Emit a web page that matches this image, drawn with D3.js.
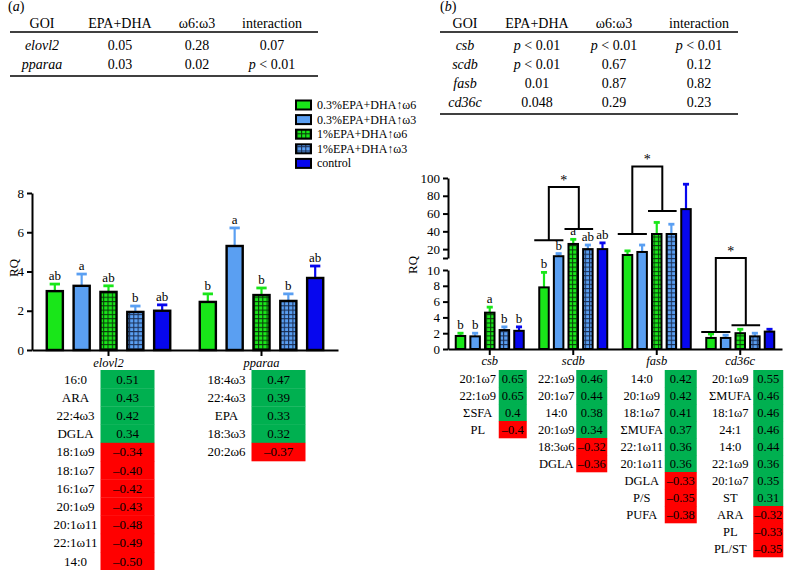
<!DOCTYPE html>
<html><head><meta charset="utf-8">
<script src="https://cdn.jsdelivr.net/npm/d3@7/dist/d3.min.js"></script>
<style>
body{margin:0;background:#fff}
svg{display:block}
svg text{font-family:"Liberation Serif","Tinos","Times New Roman","Times","DejaVu Serif","Noto Serif",serif;fill:#000}
</style>
</head><body>
<script>
// ---------------- DATA ----------------
const treatments = ["0.3%EPA+DHA\u2191\u03c96","0.3%EPA+DHA\u2191\u03c93","1%EPA+DHA\u2191\u03c96","1%EPA+DHA\u2191\u03c93","control"];
const treatmentColors = ["#19e619","#5a9ff2","#19e619","#5a9ff2","#0707ee"];
const treatmentPatterned = [false,false,true,true,false];

const tableHead = ["GOI","EPA+DHA","\u03c96:\u03c93","interaction"];
const tableAGenes = ["elovl2","pparaa"];
const tableAEpa = ["0.05","0.03"];
const tableARatio = ["0.28","0.02"];
const tableAInter = ["0.07","p < 0.01"];
const tableBGenes = ["csb","scdb","fasb","cd36c"];
const tableBEpa = ["p < 0.01","p < 0.01","0.01","0.048"];
const tableBRatio = ["p < 0.01","0.67","0.87","0.29"];
const tableBInter = ["p < 0.01","0.12","0.82","0.23"];

const genesA = ["elovl2","pparaa"];
const meanElovl2 = [3.0,3.27,2.96,1.94,2.0];
const errElovl2  = [3.36,3.87,3.27,2.24,2.3];
const letElovl2  = ["ab","a","ab","b","ab"];
const meanPparaa = [2.45,5.3,2.8,2.5,3.67];
const errPparaa  = [2.86,6.22,3.16,2.86,4.28];
const letPparaa  = ["b","a","b","b","ab"];

const genesB = ["csb","scdb","fasb","cd36c"];
const meanCsb  = [1.65,1.6,4.6,2.4,2.3];
const errCsb   = [2.0,2.0,5.3,2.8,2.8];
const letCsb   = ["b","b","a","b","b"];
const meanScdb = [7.8,12,25.8,20,20];
const errScdb  = [9.7,15,31,24.6,27];
const letScdb  = ["b","b","a","ab","ab"];
const meanFasb = [13.4,16.8,37,37,65];
const errFasb  = [18,24.6,50,48,93];
const letFasb  = ["","","","",""];
const meanCd36c = [1.4,1.4,2.0,1.6,2.2];
const errCd36c  = [1.9,1.75,2.5,2.0,2.5];
const letCd36c  = ["","","","",""];

const ticksA = [0,2,4,6,8];
const ticksBLow = [0,2,4,6,8,10];
const ticksBHigh = [10,20,40,60,80,100];

// significance brackets (values on RQ axis)
const bracketGenes = ["scdb","fasb","cd36c"];
const bracketLeft  = [30,37,2.15];
const bracketRight = [42.7,63,3.0];
const bracketTop   = [90,113,10.05];

// correlation tables
const corrElovl2Lab = ["16:0","ARA","22:4\u03c93","DGLA","18:1\u03c99","18:1\u03c97","16:1\u03c97","20:1\u03c99","20:1\u03c911","22:1\u03c911","14:0"];
const corrElovl2Val = ["0.51","0.43","0.42","0.34","\u20130.34","\u20130.40","\u20130.42","\u20130.43","\u20130.48","\u20130.49","\u20130.50"];
const corrPparaaLab = ["18:4\u03c93","22:4\u03c93","EPA","18:3\u03c93","20:2\u03c96"];
const corrPparaaVal = ["0.47","0.39","0.33","0.32","\u20130.37"];
const corrCsbLab = ["20:1\u03c97","22:1\u03c99","\u03a3SFA","PL"];
const corrCsbVal = ["0.65","0.65","0.4","\u20130.4"];
const corrScdbLab = ["22:1\u03c99","20:1\u03c97","14:0","20:1\u03c99","18:3\u03c96","DGLA"];
const corrScdbVal = ["0.46","0.44","0.38","0.34","\u20130.32","\u20130.36"];
const corrFasbLab = ["14:0","20:1\u03c99","18:1\u03c97","\u03a3MUFA","22:1\u03c911","20:1\u03c911","DGLA","P/S","PUFA"];
const corrFasbVal = ["0.42","0.42","0.41","0.37","0.36","0.36","\u20130.33","\u20130.35","\u20130.38"];
const corrCd36cLab = ["20:1\u03c99","\u03a3MUFA","18:1\u03c97","24:1","14:0","22:1\u03c99","20:1\u03c97","ST","ARA","PL","PL/ST"];
const corrCd36cVal = ["0.55","0.46","0.46","0.46","0.44","0.36","0.35","0.31","\u20130.32","\u20130.33","\u20130.35"];

// ---------------- DRAW ----------------
const W = 786, H = 570;
const FONT = '"Liberation Serif","Tinos","Times New Roman","Times","DejaVu Serif","Noto Serif",serif';
const svg = d3.select("body").append("svg").attr("width", W).attr("height", H)
  .attr("font-family", FONT);
const defs = svg.append("defs");
function gridPattern(id, bg, line, s){
  const p = defs.append("pattern").attr("id", id).attr("patternUnits","userSpaceOnUse")
    .attr("width", s).attr("height", s);
  p.append("rect").attr("width", s).attr("height", s).attr("fill", bg);
  p.append("path").attr("d", `M0,0.5H${s}M0.5,0V${s}`).attr("stroke", line).attr("stroke-width", 1.1);
}
gridPattern("gG", "#19e619", "#0a3a0a", 4.3);
gridPattern("gB", "#5a9ff2", "#1b2f55", 4.3);
const fillOf = i => treatmentPatterned[i] ? (i === 2 ? "url(#gG)" : "url(#gB)") : treatmentColors[i];

function txt(sel){ return sel.append("text").attr("font-family", FONT); }
function richText(sel, str){
  if (str.startsWith("p <")) {
    sel.append("tspan").attr("font-style","italic").text("p");
    sel.append("tspan").text(str.slice(1));
  } else sel.text(str);
}

// ---- panel labels ----
function panelLabel(x, y, ch){
  const t = txt(svg).attr("x", x).attr("y", y).attr("font-size", 14);
  t.append("tspan").text("(");
  t.append("tspan").attr("font-style","italic").text(ch);
  t.append("tspan").text(")");
}
panelLabel(8, 11, "a");
panelLabel(440, 11, "b");

// ---- top tables ----
function topTable(x0, x1, colX, genes, c1, c2, c3, headY, lineY, rowY0, rowStep){
  const g = svg.append("g");
  tableHead.forEach((h, i) => txt(g).attr("x", colX[i]).attr("y", headY)
    .attr("text-anchor","middle").attr("dominant-baseline","central").attr("font-size", 14).text(h));
  g.append("line").attr("x1", x0).attr("x2", x1).attr("y1", lineY).attr("y2", lineY).attr("stroke","#000").attr("stroke-width",1.5);
  genes.forEach((gn, r) => {
    const y = rowY0 + r * rowStep;
    txt(g).attr("x", colX[0]).attr("y", y).attr("text-anchor","middle").attr("dominant-baseline","central")
      .attr("font-size", 14).attr("font-style","italic").text(gn);
    [c1[r], c2[r], c3[r]].forEach((v, j) => {
      const t = txt(g).attr("x", colX[j+1]).attr("y", y).attr("text-anchor","middle")
        .attr("dominant-baseline","central").attr("font-size", 14);
      richText(t, v);
    });
  });
  const by = rowY0 + (genes.length - 1) * rowStep + 12;
  g.append("line").attr("x1", x0).attr("x2", x1).attr("y1", by).attr("y2", by).attr("stroke","#000").attr("stroke-width",1.5);
}
topTable(10, 318, [42,120,197,272], tableAGenes, tableAEpa, tableARatio, tableAInter, 23, 32, 45, 19);
topTable(440, 738, [465,537,614,699], tableBGenes, tableBEpa, tableBRatio, tableBInter, 23, 32, 45, 19);

// ---- legend ----
const leg = svg.append("g");
treatments.forEach((t, i) => {
  const y = 105 + i * 14.6;
  leg.append("rect").attr("x", 296).attr("y", y - 4.5).attr("width", 15).attr("height", 9)
    .attr("fill", fillOf(i)).attr("stroke","#000").attr("stroke-width", 2);
  txt(leg).attr("x", 317).attr("y", y).attr("dominant-baseline","central").attr("font-size", 12).text(t);
});

// ---- generic bar drawing ----
function drawBars(g, xOuter, xInner, yf, gene, means, errs, letters, sw){
  const bw = xInner.bandwidth();
  means.forEach((m, i) => {
    const x = xOuter(gene) + xInner(i);
    const cx = x + bw / 2;
    const col = treatmentColors[i];
    g.append("line").attr("x1", cx).attr("x2", cx).attr("y1", yf(m)).attr("y2", yf(errs[i]))
      .attr("stroke", col).attr("stroke-width", 2.2);
    g.append("line").attr("x1", cx - bw * 0.32).attr("x2", cx + bw * 0.32).attr("y1", yf(errs[i])).attr("y2", yf(errs[i]))
      .attr("stroke", col).attr("stroke-width", 2.8);
    g.append("rect").attr("x", x).attr("y", yf(m)).attr("width", bw).attr("height", yf(0) - yf(m))
      .attr("fill", fillOf(i)).attr("stroke", "#000").attr("stroke-width", sw);
    if (letters[i]) txt(g).attr("x", cx).attr("y", yf(errs[i]) - 4).attr("text-anchor","middle")
      .attr("font-size", 13).text(letters[i]);
  });
}
function styleAxis(a){
  a.attr("font-family", FONT);
  a.selectAll("path,line").attr("stroke","#000").attr("stroke-width",2);
  a.selectAll("text").attr("font-family", FONT).attr("font-size", 13).attr("fill","#000");
}

// ---- left chart ----
const xA = d3.scaleBand().domain(genesA).range([32, 338]);
const xAin = d3.scaleBand().domain(d3.range(5)).range([0, xA.bandwidth()]).paddingInner(0.4).paddingOuter(0.55);
const yA = d3.scaleLinear().domain([0, 8]).range([350, 193]);
const gA = svg.append("g");
drawBars(gA, xA, xAin, yA, "elovl2", meanElovl2, errElovl2, letElovl2, 2.4);
drawBars(gA, xA, xAin, yA, "pparaa", meanPparaa, errPparaa, letPparaa, 2.4);
styleAxis(svg.append("g").attr("transform","translate(32,0)")
  .call(d3.axisLeft(yA).tickValues(ticksA).tickSize(5).tickSizeOuter(0).tickPadding(3)));
styleAxis(svg.append("g").attr("transform","translate(0,350)")
  .call(d3.axisBottom(xA).tickSize(6).tickSizeOuter(0).tickFormat("")));
genesA.forEach(gn => txt(svg).attr("x", xA(gn) + xA.bandwidth()/2).attr("y", 363)
  .attr("text-anchor","middle").attr("dominant-baseline","central").attr("font-size",12.5).attr("font-style","italic").text(gn));
txt(svg).attr("transform","translate(13,268) rotate(-90)").attr("text-anchor","middle")
  .attr("dominant-baseline","central").attr("font-size",13).text("RQ");

// ---- right chart (broken axis) ----
const xB = d3.scaleBand().domain(genesB).range([448, 782]);
const xBin = d3.scaleBand().domain(d3.range(5)).range([0, xB.bandwidth()]).paddingInner(0.35).paddingOuter(0.53);
const yLow = d3.scaleLinear().domain([0, 10]).range([349, 270]);
const yHigh = d3.scaleLinear().domain([10, 100]).range([258, 178]);
const yB = v => v <= 10 ? yLow(v) : yHigh(v);
const gB = svg.append("g");
drawBars(gB, xB, xBin, yB, "csb", meanCsb, errCsb, letCsb, 2);
drawBars(gB, xB, xBin, yB, "scdb", meanScdb, errScdb, letScdb, 2);
drawBars(gB, xB, xBin, yB, "fasb", meanFasb, errFasb, letFasb, 2);
drawBars(gB, xB, xBin, yB, "cd36c", meanCd36c, errCd36c, letCd36c, 2);
styleAxis(svg.append("g").attr("transform","translate(448,0)")
  .call(d3.axisLeft(yLow).tickValues(ticksBLow).tickSize(5).tickSizeOuter(0).tickPadding(3)));
styleAxis(svg.append("g").attr("transform","translate(448,0)")
  .call(d3.axisLeft(yHigh).tickValues(ticksBHigh).tickSize(5).tickSizeOuter(0).tickPadding(3)
    .tickFormat(d => d === 10 ? "" : d)));
styleAxis(svg.append("g").attr("transform","translate(0,349)")
  .call(d3.axisBottom(xB).tickSize(6).tickSizeOuter(0).tickFormat("")));
genesB.forEach(gn => txt(svg).attr("x", xB(gn) + xB.bandwidth()/2).attr("y", 361)
  .attr("text-anchor","middle").attr("dominant-baseline","central").attr("font-size",12.5).attr("font-style","italic").text(gn));
txt(svg).attr("transform","translate(412,265) rotate(-90)").attr("text-anchor","middle")
  .attr("dominant-baseline","central").attr("font-size",13).text("RQ");

// brackets
bracketGenes.forEach((gn, k) => {
  const bw = xBin.bandwidth();
  const bx = i => xB(gn) + xBin(i);
  const l0 = bx(0) - 5, l1 = bx(1) + bw;
  const r0 = bx(2) - 4, r1 = bx(3) + bw + 0.5;
  const lc = (l0 + l1) / 2, rc = (r0 + r1) / 2;
  const yl = yB(bracketLeft[k]), yr = yB(bracketRight[k]), yt = yB(bracketTop[k]);
  const path = `M${l0},${yl}H${l1}M${r0},${yr}H${r1}M${lc},${yl}V${yt}H${rc}V${yr}`;
  gB.append("path").attr("d", path).attr("fill","none").attr("stroke","#000").attr("stroke-width",2);
  txt(gB).attr("x", (lc + rc) / 2).attr("y", yt - 2).attr("text-anchor","middle")
    .attr("font-size", 14).attr("fill","#444").text("*");
});

// ---- correlation tables ----
function corrTable(labels, vals, labelX, cellX, cellW, top, rowH, fs){
  const g = svg.append("g");
  labels.forEach((lb, i) => {
    const y = top + i * rowH;
    const neg = parseFloat(vals[i].replace("\u2013","-")) < 0;
    g.append("rect").attr("x", cellX).attr("y", y).attr("width", cellW).attr("height", rowH + 0.3)
      .attr("fill", neg ? "#ff0000" : "#00b050");
    txt(g).attr("x", labelX).attr("y", y + rowH/2).attr("text-anchor","middle")
      .attr("dominant-baseline","central").attr("font-size", fs).text(lb);
    txt(g).attr("x", cellX + cellW/2).attr("y", y + rowH/2).attr("text-anchor","middle")
      .attr("dominant-baseline","central").attr("font-size", fs).text(vals[i]);
  });
}
const cA = g => xA(g) + xA.bandwidth()/2;
const cB = g => xB(g) + xB.bandwidth()/2;
corrTable(corrElovl2Lab, corrElovl2Val, cA("elovl2") - 33, cA("elovl2") - 8, 54, 370, 18.2, 13);
corrTable(corrPparaaLab, corrPparaaVal, cA("pparaa") - 35, cA("pparaa") - 10, 54, 370, 18.2, 13);
corrTable(corrCsbLab, corrCsbVal, cB("csb") - 12, cB("csb") + 9, 28, 370, 17, 12.5);
corrTable(corrScdbLab, corrScdbVal, cB("scdb") - 17, cB("scdb") + 3, 31, 370, 17, 12.5);
corrTable(corrFasbLab, corrFasbVal, cB("fasb") - 15, cB("fasb") + 8, 32, 370, 17, 12.5);
corrTable(corrCd36cLab, corrCd36cVal, cB("cd36c") - 10, cB("cd36c") + 13, 30, 370, 17, 12.5);
</script>
</body></html>
